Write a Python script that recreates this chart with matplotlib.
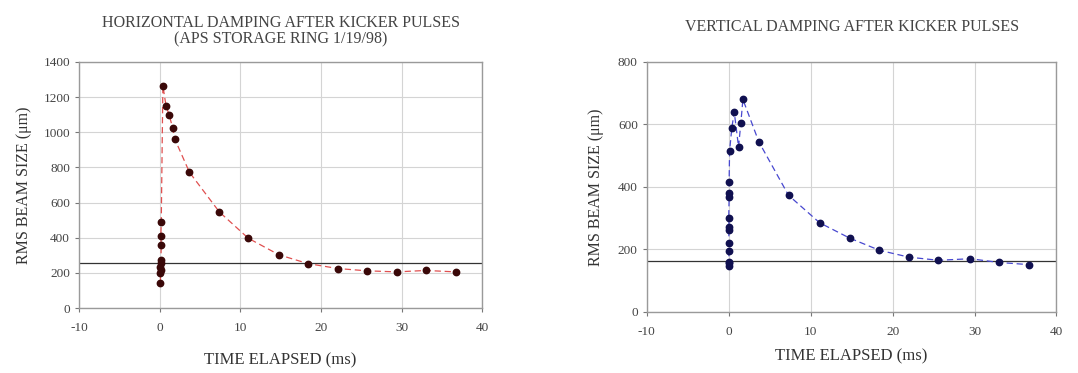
import numpy as np
import matplotlib.pyplot as plt

plt.rcParams['font.family'] = ['Liberation Serif', 'DejaVu Serif']
plt.rcParams['axes.unicode_minus'] = False

# horizontal plane data (time in ms, rms size in um)
h_time = [0.1, 0.1, 0.15, 0.1, 0.2, 0.15, 0.2, 0.15, 0.2, 0.4,
          0.8, 1.2, 1.6, 1.9, 3.7, 7.4, 11.0, 14.8, 18.4, 22.1, 25.7, 29.4, 33.0, 36.7]
h_size = [142, 200, 218, 236, 255, 274, 356, 411, 492, 1265,
          1148, 1097, 1025, 959, 772, 547, 397, 303, 253, 225, 212, 206, 214, 206]
h_ref = 255

# vertical plane data
v_time = [0.0, 0.0, 0.05, 0.0, 0.05, 0.0, 0.05, 0.0, 0.05, 0.0, 0.05, 0.1,
          0.38, 0.67, 1.2, 1.48, 1.73, 3.68, 7.3, 11.1, 14.76, 18.4, 22.0, 25.6, 29.5, 33.0, 36.7]
v_size = [146, 155, 160, 195, 219, 261, 272, 299, 368, 381, 416, 514,
          589, 640, 528, 605, 680, 544, 373, 285, 236, 197, 175, 165, 170, 158, 151]
v_ref = 162

fig = plt.figure(figsize=(10.78, 3.73), dpi=100)

def panel(rect, t, s, ref, ymax, ystep, lc, mc, title, ty):
    ax = fig.add_axes(rect)
    ax.plot(t, s, linestyle=(0, (5, 3)), color=lc, lw=0.9,
            marker='o', ms=4.6, mfc=mc, mec=mc)
    ax.axhline(ref, color='#333333', lw=0.9, zorder=1)
    ax.set_xlim(-10, 40)
    ax.set_ylim(0, ymax)
    ax.set_xticks(np.arange(-10, 41, 10))
    ax.set_yticks(np.arange(0, ymax + 1, ystep))
    ax.grid(True, color='#d4d4d4', lw=0.8)
    ax.set_axisbelow(True)
    for sp in ax.spines.values():
        sp.set_color('#9a9a9a')
        sp.set_linewidth(1.0)
    ax.tick_params(labelsize=9.5, color='#777777', length=3, labelcolor='#444444')
    ax.tick_params(axis='x', pad=7)
    ax.set_xlabel('TIME ELAPSED (ms)', fontsize=12, color='#333333', labelpad=8)
    ax.set_ylabel('RMS BEAM SIZE (\u03bcm)', fontsize=11.5, color='#333333')
    fig.text(rect[0] + rect[2] / 2, ty, title, ha='center', va='top',
             fontsize=11.5, color='#444444', linespacing=1.0)
    return ax

ax1 = panel([0.0733, 0.174, 0.374, 0.66], h_time, h_size, h_ref, 1400, 200,
            '#e05050', '#3a0808',
            'HORIZONTAL DAMPING AFTER KICKER PULSES\n(APS STORAGE RING 1/19/98)', 0.96)
ax1.yaxis.labelpad = 8
ax1.xaxis.labelpad = 13
ax2 = panel([0.600, 0.164, 0.380, 0.67], v_time, v_size, v_ref, 800, 200,
            '#4848d0', '#101050',
            'VERTICAL DAMPING AFTER KICKER PULSES', 0.95)
ax2.yaxis.labelpad = 10

fig.savefig('out.png', dpi=100)
